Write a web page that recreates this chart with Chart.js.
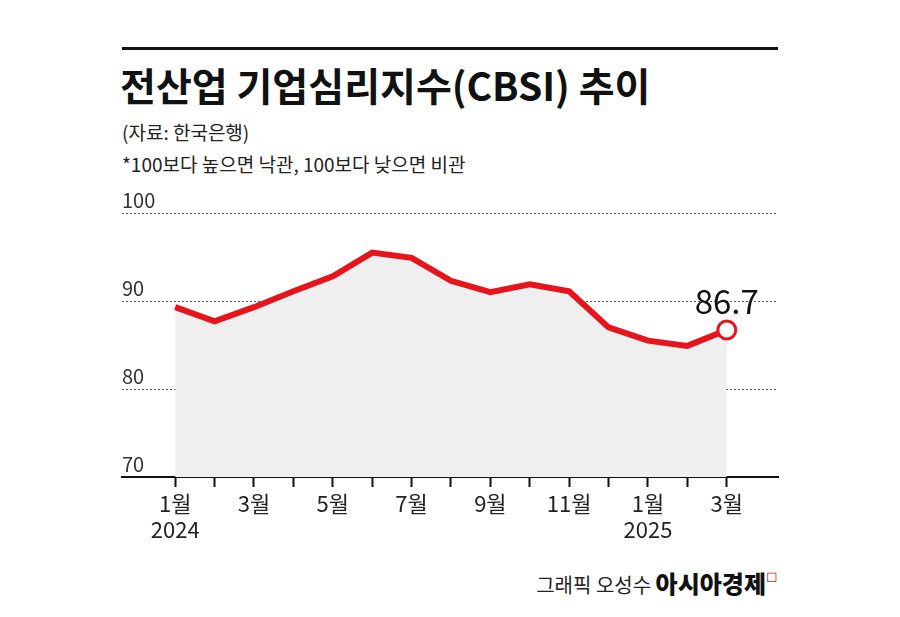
<!DOCTYPE html>
<html><head><meta charset="utf-8">
<script src="https://cdn.jsdelivr.net/npm/chart.js@4/dist/chart.umd.min.js"></script>
<style>
  body { margin:0; background:#fff; font-family:"Noto Sans CJK KR", sans-serif; }
  #wrap { position:relative; width:900px; height:617px; }
  canvas { position:absolute; left:0; top:0; }
  .rule { position:absolute; left:122px; top:47px; width:656px; height:3px; background:#111; }
  .title { position:absolute; left:120px; top:56px; font-size:39px; font-weight:bold; color:#111; letter-spacing:0px; }
  .sub { position:absolute; left:122px; font-size:19px; color:#222; }
  .credit { position:absolute; right:122px; top:565px; font-size:20px; color:#222; }
  .credit b { font-size:24px; font-weight:900; color:#111; }
</style></head>
<body><div id="wrap">
<div class="rule"></div>
<div class="title">전산업 기업심리지수(CBSI) 추이</div>
<div class="sub" style="top:118px">(자료: 한국은행)</div>
<div class="sub" style="top:150px">*100보다 높으면 낙관, 100보다 낮으면 비관</div>
<div class="credit">그래픽 오성수 <b>아시아경제</b><span style="color:#e8141b;font-size:14px;vertical-align:top">◻</span></div>
<canvas id="c" width="900" height="617"></canvas>
</div>
<script>
// Jan 2024 .. Mar 2025
const months = ['1월','2월','3월','4월','5월','6월','7월','8월','9월','10월','11월','12월','1월','2월','3월'];
const years = {0:'2024', 12:'2025'};
const cbsi = [89.3, 87.7, 89.3, 91.1, 92.8, 95.5, 94.9, 92.3, 91.0, 91.9, 91.1, 87.0, 85.5, 84.9, 86.7];
const yTicks = [70, 80, 90, 100];
const RED = '#e8141b';

const overlay = {
  id: 'overlay',
  beforeDatasetsDraw(chart) {
    const { ctx, chartArea: a, scales: { y } } = chart;
    ctx.save();
    ctx.font = '20px "Noto Sans CJK KR"';
    ctx.fillStyle = '#333';
    ctx.textBaseline = 'bottom';
    yTicks.forEach(v => {
      const py = y.getPixelForValue(v);
      if (v > 70) {
        ctx.strokeStyle = '#555'; ctx.lineWidth = 1; ctx.setLineDash([2, 2]);
        ctx.beginPath(); ctx.moveTo(a.left, py + 0.5); ctx.lineTo(a.right, py + 0.5); ctx.stroke();
      }
      ctx.fillText(String(v), a.left, py - 3);
    });
    ctx.restore();
  },
  afterDatasetsDraw(chart) {
    const { ctx } = chart;
    const p = chart.getDatasetMeta(0).data[cbsi.length - 1];
    ctx.save();
    ctx.font = '33px "Noto Sans CJK KR"';
    ctx.fillStyle = '#111';
    ctx.textAlign = 'center';
    ctx.textBaseline = 'bottom';
    ctx.fillText(cbsi[cbsi.length - 1].toFixed(1), p.x, p.y - 12);
    ctx.restore();
  }
};

new Chart(document.getElementById('c'), {
  type: 'line',
  data: {
    datasets: [{
      data: cbsi.map((v, i) => ({ x: i, y: v })),
      borderColor: RED,
      borderWidth: 6,
      backgroundColor: '#efefef',
      fill: 'start',
      tension: 0,
      pointRadius: cbsi.map((v, i) => i === cbsi.length - 1 ? 9 : 0),
      pointBackgroundColor: '#fff',
      pointBorderColor: RED,
      pointBorderWidth: 3
    }]
  },
  options: {
    responsive: false,
    animation: false,
    layout: { padding: { left: 122, right: 122, top: 213, bottom: 0 } },
    plugins: { legend: { display: false }, tooltip: { enabled: false } },
    scales: {
      x: {
        type: 'linear', min: -1.35, max: 15.3,
        afterBuildTicks: s => { s.ticks = months.map((m, i) => ({ value: i })); },
        grid: { drawOnChartArea: false, color: '#111', tickLength: 10, tickWidth: 2 },
        border: { color: '#111', width: 2 },
        ticks: {
          autoSkip: false, maxRotation: 0, color: '#222',
          font: { size: 22, family: 'Noto Sans CJK KR' },
          callback: (v) => v % 2 === 0 ? (years[v] ? [months[v], years[v]] : months[v]) : ''
        },
        afterFit: s => { s.height = 140; }
      },
      y: { display: false, min: 70, max: 100 }
    }
  },
  plugins: [overlay]
});
</script>
</body></html>
